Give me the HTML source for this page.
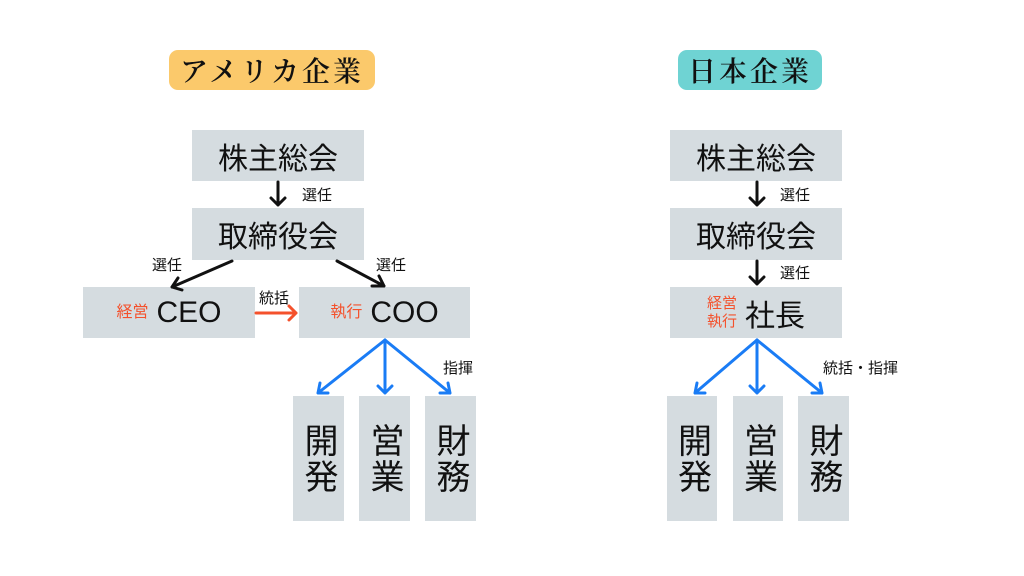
<!DOCTYPE html>
<html><head><meta charset="utf-8"><style>
body{margin:0;width:1024px;height:576px;background:#fff;position:relative;overflow:hidden;font-family:"Liberation Sans","Noto Sans CJK JP",sans-serif;color:#111}
.b{position:absolute;background:#d5dce0;display:flex;align-items:center;justify-content:center;font-size:30px}
.v{writing-mode:vertical-rl;font-size:34px;letter-spacing:2px}
.t{position:absolute;border-radius:9px;display:flex;align-items:center;justify-content:center;font-family:"Noto Serif CJK SC",serif;font-size:28px;font-weight:600;letter-spacing:3px}
.l{position:absolute;font-size:15px}
.r{color:#f4512c;font-size:16px;margin-right:8px;line-height:1.2}
svg{position:absolute;left:0;top:0}
</style></head><body>
<div class="t" style="left:169px;top:50px;width:206px;height:40px;background:#fbc96b">アメリカ企業</div>
<div class="t" style="left:678px;top:50px;width:144px;height:40px;background:#6fd3d3">日本企業</div>
<div class="b" style="left:192px;top:130px;width:172px;height:51px">株主総会</div>
<div class="b" style="left:192px;top:208px;width:172px;height:52px">取締役会</div>
<div class="b" style="left:83px;top:287px;width:172px;height:51px"><span class="r">経営</span>CEO</div>
<div class="b" style="left:299px;top:287px;width:171px;height:51px"><span class="r">執行</span>COO</div>
<div class="b v" style="left:293px;top:396px;width:51px;height:125px">開発</div>
<div class="b v" style="left:359px;top:396px;width:51px;height:125px">営業</div>
<div class="b v" style="left:425px;top:396px;width:51px;height:125px">財務</div>
<div class="b" style="left:670px;top:130px;width:172px;height:51px">株主総会</div>
<div class="b" style="left:670px;top:208px;width:172px;height:52px">取締役会</div>
<div class="b" style="left:670px;top:287px;width:172px;height:51px"><span class="r" style="font-size:15px">経営<br>執行</span>社長</div>
<div class="b v" style="left:667px;top:396px;width:50px;height:125px">開発</div>
<div class="b v" style="left:733px;top:396px;width:50px;height:125px">営業</div>
<div class="b v" style="left:798px;top:396px;width:51px;height:125px">財務</div>
<div class="l" style="left:302px;top:184px">選任</div>
<div class="l" style="left:152px;top:254px">選任</div>
<div class="l" style="left:376px;top:254px">選任</div>
<div class="l" style="left:259px;top:287px">統括</div>
<div class="l" style="left:443px;top:357px">指揮</div>
<div class="l" style="left:780px;top:184px">選任</div>
<div class="l" style="left:780px;top:262px">選任</div>
<div class="l" style="left:823px;top:357px">統括・指揮</div>
<svg width="1024" height="576" fill="none" stroke-width="3" stroke-linecap="round" stroke-linejoin="round">
<g stroke="#111">
<path d="M278 182V205M271 198L278 205L285 198"/>
<path d="M232 261L172 287M178 278L172 287L182 290"/>
<path d="M337 261L384 286M372 286L384 286L379 276"/>
<path d="M757 182V205M750 198L757 205L764 198"/>
<path d="M757 261V284M750 277L757 284L764 277"/>
</g>
<path stroke="#f4512c" d="M256 313H296M289 306L296 313L289 320"/>
<g stroke="#1a7cf5">
<path d="M385 340L318 393M320 383L318 393L328 393"/>
<path d="M385 340V393M378 386L385 393L392 386"/>
<path d="M385 340L450 393M440 393L450 393L448 383"/>
<path d="M757 340L695 393M697 383L695 393L705 393"/>
<path d="M757 340V393M750 386L757 393L764 386"/>
<path d="M757 340L822 393M812 393L822 393L820 383"/>
</g>
</svg>
</body></html>
